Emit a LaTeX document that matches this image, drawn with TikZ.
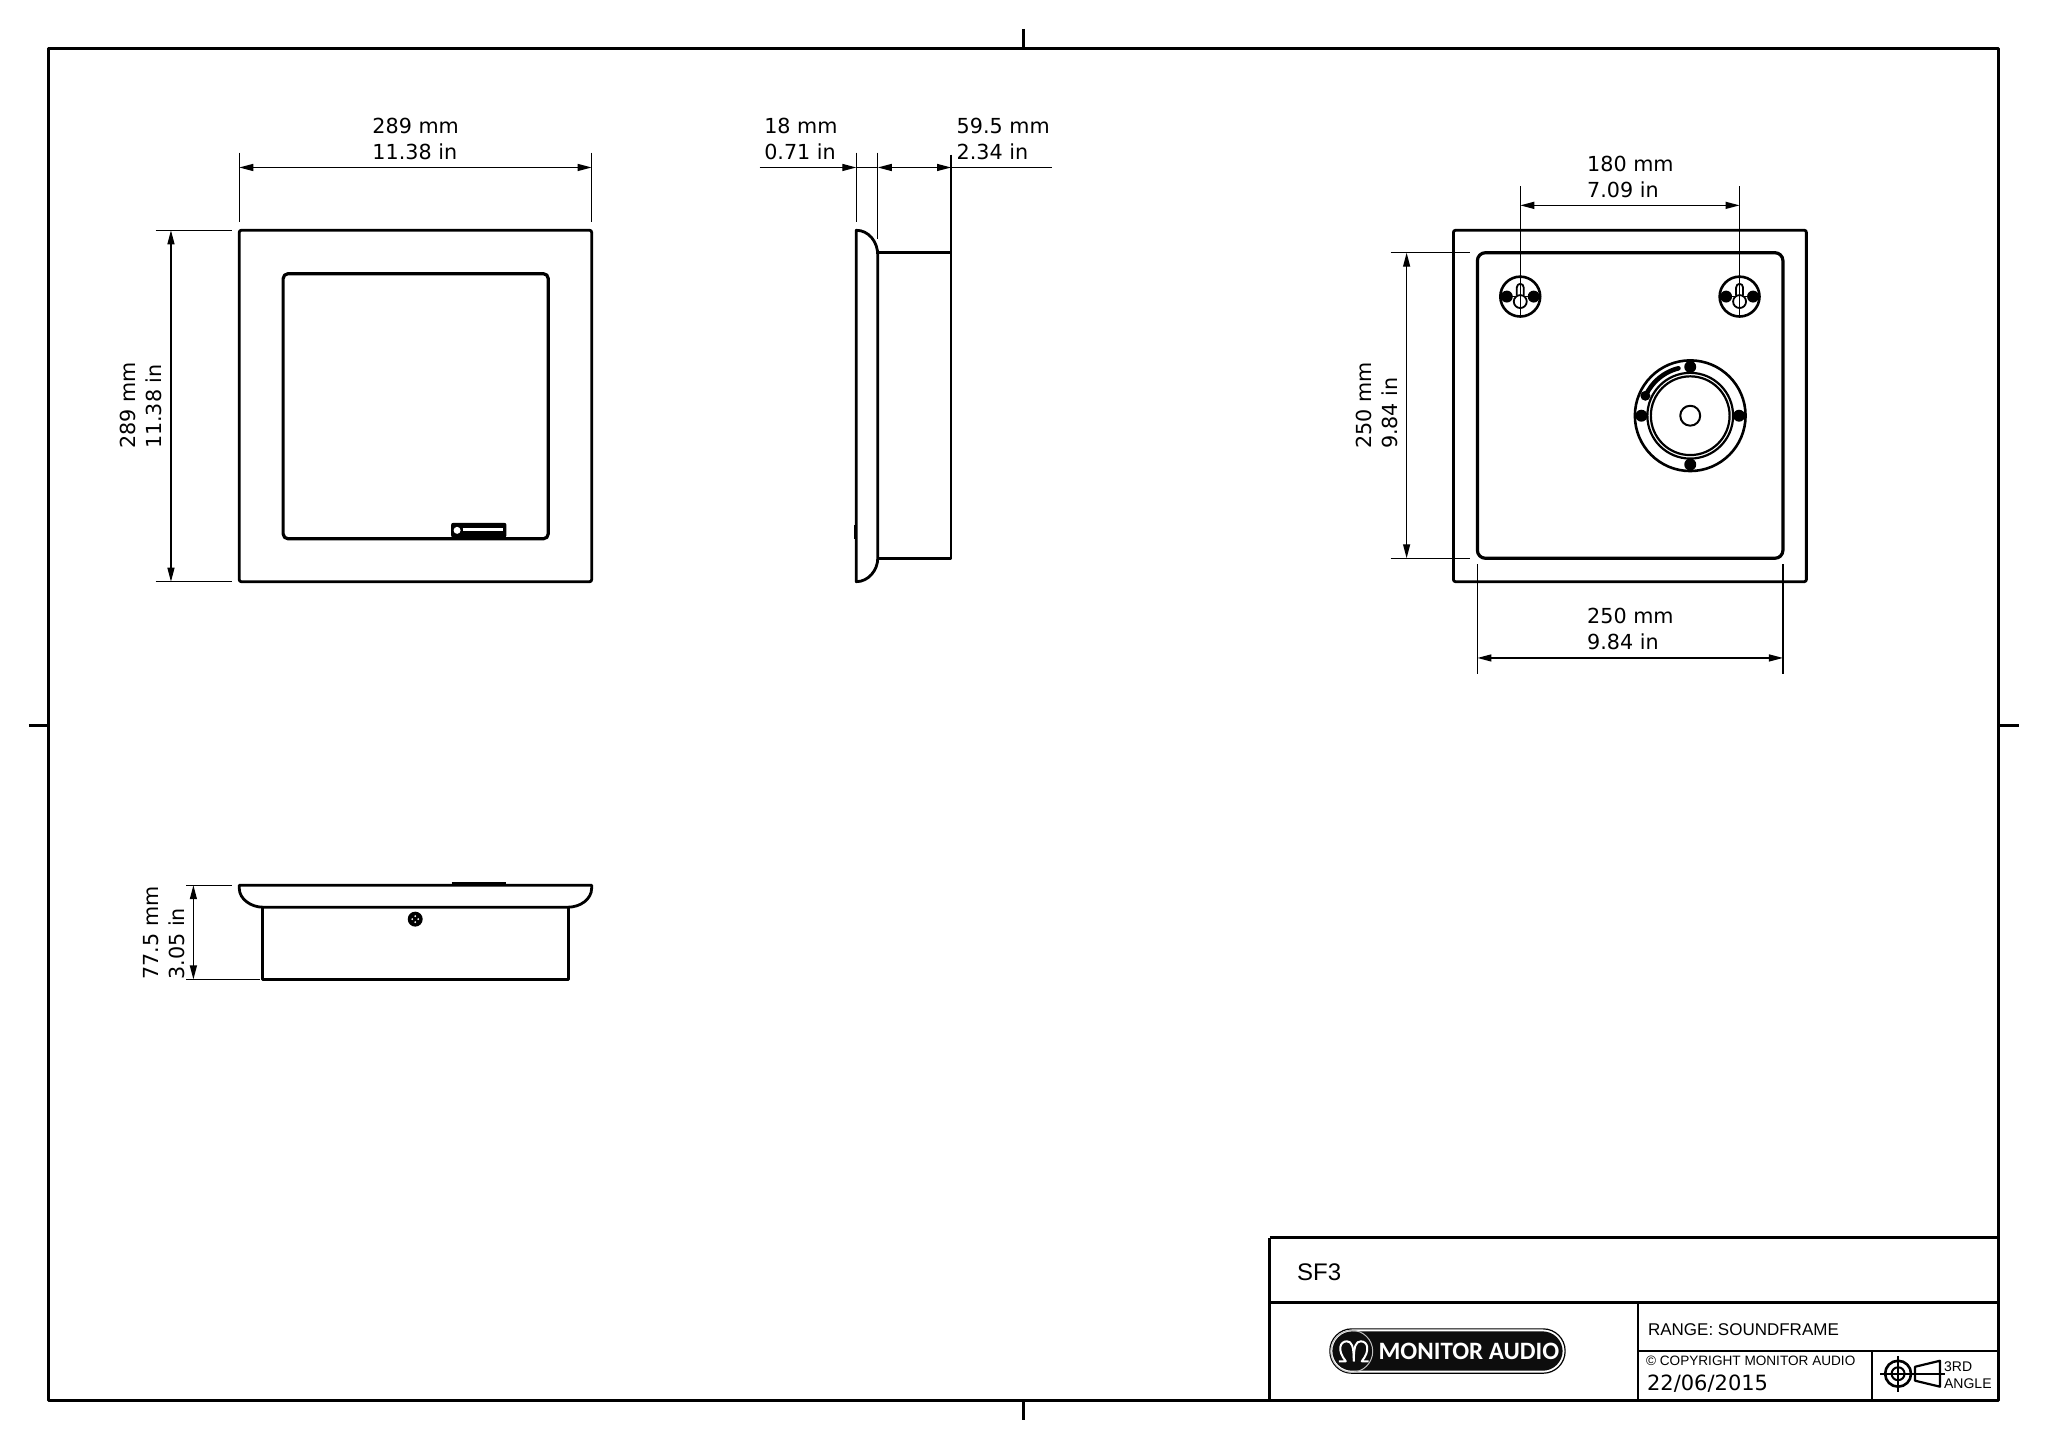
\documentclass[tikz,border=0pt]{standalone}
\usepackage{fontspec}
\setmainfont{DejaVu Sans}
\newfontfamily\titlefont{Liberation Sans}
\newfontfamily\logofont{Carlito}
\usetikzlibrary{arrows.meta}

\begin{document}
\begin{tikzpicture}[x=0.99687pt,y=-0.99687pt,>={Triangle[length=14pt,width=7pt]},
                    line join=round]
\tikzset{solid part/.style={draw=black,line width=2.8pt},
         frame part/.style={draw=black,line width=3.2pt},
         block part/.style={draw=black,line width=2.6pt},
         dim part/.style={draw=black,line width=1.3pt},
         dimlabel/.style={font=\fontsize{20.7}{26}\selectfont,align=left,inner sep=0pt},
         blocklabel/.style={font=\titlefont,anchor=west,inner sep=0pt}}
\useasboundingbox (0,0) rectangle (2054.4,1452.5);

        % sheet
        \draw[frame part] (48.5,48.5) rectangle (2005,1405);
        \coordinate (tt0) at (1027,29);   \coordinate (tt1) at (1027,48.5);
        \coordinate (tb0) at (1027,1405); \coordinate (tb1) at (1027,1424);
        \coordinate (tl0) at (29,727.5);  \coordinate (tl1) at (48.5,727.5);
        \coordinate (tr0) at (2005,727.5);\coordinate (tr1) at (2025,727.5);
        \path[frame part]
        (tt0) edge (tt1)
        (tb0) edge (tb1)
        (tl0) edge (tl1)
        (tr0) edge (tr1)
        ; %end path

        % title block
        \coordinate (b0) at (1273.5,1241.5); \coordinate (b1) at (2005,1241.5);
        \coordinate (b2) at (1273.5,1405); \coordinate (b3) at (1273.5,1306.5);
        \coordinate (b4) at (2005,1306.5); \coordinate (b5) at (1643,1306.5);
        \coordinate (b6) at (1643,1405);   \coordinate (b7) at (2005,1355);
        \coordinate (b8) at (1643,1355);   \coordinate (b9) at (1878,1355);
        \coordinate (b10) at (1878,1405);
        \path[block part]
        (b0) edge (b1)
        (b0) edge (b2)
        (b3) edge (b4)
        (b5) edge (b6)
        (b8) edge (b7)
        (b9) edge (b10)
        ; %end path
        \node[blocklabel,font=\titlefont\fontsize{24}{26}\selectfont] (sf) at (1301,1276.5) {SF3};
        \node[blocklabel,font=\titlefont\fontsize{17}{20}\selectfont] (range) at (1653,1333.5) {RANGE: SOUNDFRAME};
        \node[blocklabel,font=\titlefont\fontsize{13.6}{16}\selectfont] (copy) at (1651,1365.5) {© COPYRIGHT MONITOR AUDIO};
        \node[blocklabel,font=\fontsize{21}{24}\selectfont] (date) at (1652,1388) {22/06/2015};
        \node[blocklabel,font=\titlefont\fontsize{14}{16}\selectfont] (rd) at (1950,1370.5) {3RD};
        \node[blocklabel,font=\titlefont\fontsize{14}{16}\selectfont] (ang) at (1950,1388) {ANGLE};

        % projection symbol
        \draw[black,line width=2.6pt] (1904,1378) circle [radius=13];
        \draw[black,line width=2pt] (1904,1378) circle [radius=6.5];
        \draw[black,line width=1.8pt] (1904,1360) -- (1904,1396) (1886,1378) -- (1922,1378);
        \draw[black,line width=2.2pt] (1921,1371) -- (1946,1365) -- (1946,1391) -- (1921,1385) -- cycle;
        \draw[black,line width=1.6pt] (1921,1378) -- (1951,1378);

        % logo
        \draw[black,line width=1.2pt] (1334,1333) [rounded corners=22pt] rectangle (1570,1377.5);
        \fill[black!95,rounded corners=20pt] (1336.5,1335.5) rectangle (1567.5,1375);
        \draw[black!25,line width=1pt] (1356,1355.5) circle [radius=21];
        \draw[white,line width=2pt] (1343,1365.5) -- (1350,1365.5) .. controls (1341,1354.5) and (1344,1345.5) .. (1351,1345.5)
              .. controls (1356,1345.5) and (1358,1350.5) .. (1358,1365.5);
        \draw[white,line width=2pt] (1373,1365.5) -- (1366,1365.5) .. controls (1375,1354.5) and (1372,1345.5) .. (1365,1345.5)
              .. controls (1360,1345.5) and (1358,1350.5) .. (1358,1365.5);
        \node[font=\logofont\bfseries\fontsize{25}{26}\selectfont,text=white,inner sep=0pt] (logo) at (1473.5,1355.5) {MONITOR AUDIO};

        % front view
        \draw[solid part,rounded corners=2pt] (240,231) rectangle (593.5,583.5);
        \draw[solid part,line width=3.2pt,rounded corners=5pt] (284,274.5) rectangle (550,540.5);
        \fill[black,rounded corners=2pt] (452.5,524.5) rectangle (508,539);
        \fill[white] (458.5,532) circle [radius=3.5];
        \draw[white,line width=2.4pt] (464,531) -- (505,531);

        \coordinate (fa0) at (240,153);  \coordinate (fa1) at (240,223);
        \coordinate (fb0) at (593.5,153);\coordinate (fb1) at (593.5,223);
        \coordinate (fc0) at (240,168);  \coordinate (fc1) at (593.5,168);
        \coordinate (fd0) at (156,231);  \coordinate (fd1) at (233,231);
        \coordinate (fe0) at (156,583.5);\coordinate (fe1) at (233,583.5);
        \coordinate (ff0) at (171.5,231);\coordinate (ff1) at (171.5,583.5);
        \path[dim part]
        (fa0) edge (fa1)
        (fb0) edge (fb1)
        (fd0) edge (fd1)
        (fe0) edge (fe1)
        (fc0) edge[<->] (fc1)
        (ff0) edge[<->] (ff1)
        ; %end path
        \node[dimlabel] (fw) at (417,139) {289 mm\\11.38 in};
        \node[dimlabel,rotate=90] (fh) at (141,407) {289 mm\\11.38 in};

        % side view
        \draw[solid part] (859,231) .. controls (871,231) and (880.5,242) .. (880.5,256)
              -- (880.5,560) .. controls (880.5,572) and (871,583.5) .. (859,583.5) -- cycle;
        \draw[solid part] (880.5,253.5) -- (954,253.5) -- (954,560) -- (880.5,560);
        \draw[black,line width=3.6pt] (858,527) -- (858,541);

        \coordinate (sa0) at (859,153);  \coordinate (sa1) at (859,223);
        \coordinate (sb0) at (880.5,153);\coordinate (sb1) at (880.5,240);
        \coordinate (sc0) at (954,155);  \coordinate (sc1) at (954,253);
        \coordinate (sd0) at (762,168);  \coordinate (sd1) at (859,168);
        \coordinate (sd2) at (880.5,168);\coordinate (sd3) at (954,168);
        \coordinate (sd4) at (1055,168);
        \path[dim part]
        (sa0) edge (sa1)
        (sb0) edge (sb1)
        (sc0) edge (sc1)
        (sd0) edge[->] (sd1)
        (sd1) edge (sd2)
        (sd2) edge[<->] (sd3)
        (sd3) edge (sd4)
        ; %end path
        \node[dimlabel,anchor=west] (sp) at (766.5,139) {18 mm\\0.71 in};
        \node[dimlabel,anchor=west] (sq) at (959.5,139) {59.5 mm\\2.34 in};

        % rear view
        \draw[solid part,rounded corners=2pt] (1458,231) rectangle (1812,583.5);
        \draw[solid part,line width=3.2pt,rounded corners=8pt] (1482,253.5) rectangle (1788.5,560);
        \foreach \cx in {1525,1745} {
          \draw[black,line width=2.6pt] (\cx,297.5) circle [radius=20];
          \fill[black] (\cx-13.5,297.5) circle [radius=6];
          \fill[black] (\cx+13.5,297.5) circle [radius=6];
          \draw[black,line width=1pt] (\cx-13,297.5) -- (\cx+13,297.5);
          \draw[black,line width=1.8pt] (\cx-3.5,296.5) -- (\cx-3.5,288.5) .. controls (\cx-3.5,283.5) and (\cx+3.5,283.5) .. (\cx+3.5,288.5) -- (\cx+3.5,296.5);
          \draw[black,line width=1.8pt,fill=white] (\cx,302.5) circle [radius=6.5];
        }
        \draw[black,line width=2.6pt] (1695.5,417) circle [radius=55.5];
        \draw[black,line width=2.2pt] (1695.5,417) circle [radius=43];
        \draw[black,line width=2.2pt] (1695.5,417) circle [radius=39.5];
        \draw[black,line width=2pt] (1695.5,417) circle [radius=10];
        \fill[black] (1695.5,368) circle [radius=6];
        \fill[black] (1695.5,466) circle [radius=6];
        \fill[black] (1646.5,417) circle [radius=6];
        \fill[black] (1744.5,417) circle [radius=6];
        \draw[black,line width=4.6pt,line cap=round] plot[domain=104:152,samples=16] ({1695.5+49*cos(\x)},{417-49*sin(\x)});
        \fill[black] (1650.5,397) circle [radius=5];

        \coordinate (ra0) at (1525,187);  \coordinate (ra1) at (1525,318);
        \coordinate (rb0) at (1745,187);  \coordinate (rb1) at (1745,318);
        \coordinate (rc0) at (1525,206);  \coordinate (rc1) at (1745,206);
        \coordinate (rd0) at (1395,253.5);\coordinate (rd1) at (1475,253.5);
        \coordinate (re0) at (1395,560);  \coordinate (re1) at (1475,560);
        \coordinate (rf0) at (1411,253.5);\coordinate (rf1) at (1411,560);
        \coordinate (rg0) at (1482,566);  \coordinate (rg1) at (1482,676);
        \coordinate (rh0) at (1788.5,566);\coordinate (rh1) at (1788.5,676);
        \coordinate (ri0) at (1482,660);  \coordinate (ri1) at (1788.5,660);
        \path[dim part]
        (ra0) edge (ra1)
        (rb0) edge (rb1)
        (rd0) edge (rd1)
        (re0) edge (re1)
        (rg0) edge (rg1)
        (rh0) edge (rh1)
        (rc0) edge[<->] (rc1)
        (rf0) edge[<->] (rf1)
        (ri0) edge[<->] (ri1)
        ; %end path
        \node[dimlabel] (rw) at (1635.5,178) {180 mm\\7.09 in};
        \node[dimlabel,rotate=90] (rh) at (1381,407) {250 mm\\9.84 in};
        \node[dimlabel] (rb) at (1635.5,631) {250 mm\\9.84 in};

        % bottom view
        \draw[solid part] (240,888) -- (593.5,888) -- (593.5,891) .. controls (593.5,902) and (582,910) .. (570,910)
              -- (263.5,910) .. controls (252,910) and (240,902) .. (240,891) -- cycle;
        \draw[solid part] (263.5,910) -- (263.5,982.5) -- (570,982.5) -- (570,910);
        \draw[black,line width=3.4pt] (453,886.5) -- (508,886.5);
        \fill[black] (416.5,922) circle [radius=7.5];
        \fill[white] (416.5,919) circle [radius=1] (416.5,925) circle [radius=1]
                     (413.5,922) circle [radius=1] (419.5,922) circle [radius=1];

        \coordinate (ua0) at (187,888);  \coordinate (ua1) at (233,888);
        \coordinate (ub0) at (187,982.5);\coordinate (ub1) at (261,982.5);
        \coordinate (uc0) at (194,888);  \coordinate (uc1) at (194,982.5);
        \path[dim part]
        (ua0) edge (ua1)
        (ub0) edge (ub1)
        (uc0) edge[<->] (uc1)
        ; %end path
        \node[dimlabel,rotate=90] (ud) at (165,936) {77.5 mm\\3.05 in};

\end{tikzpicture}
\end{document}
